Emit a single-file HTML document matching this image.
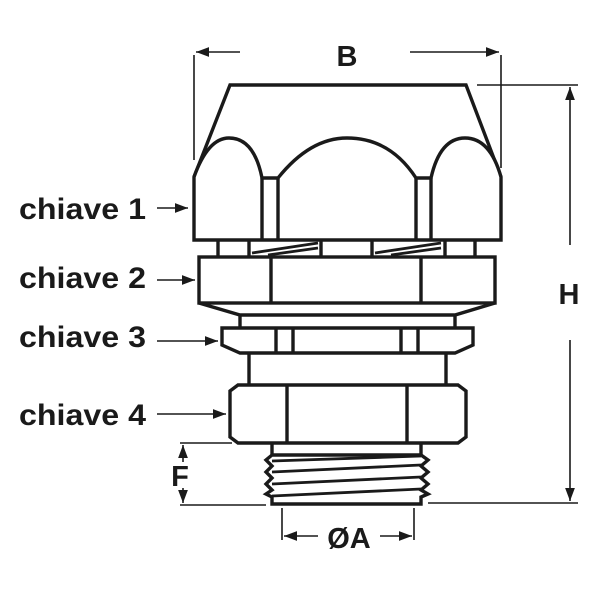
<!DOCTYPE html>
<html><head><meta charset="utf-8"><style>
html,body{margin:0;padding:0;background:#fff;width:600px;height:600px;overflow:hidden}
svg{display:block}
text{font-family:"Liberation Sans",Arial,sans-serif;font-weight:bold;fill:#1a1a1a}
</style></head><body>
<svg width="600" height="600" viewBox="0 0 600 600" xmlns="http://www.w3.org/2000/svg">
<defs>
<marker id="ar" viewBox="0 0 12 10" refX="12" refY="5" markerWidth="13" markerHeight="11" markerUnits="userSpaceOnUse" orient="auto"><path d="M0,0.5 L12,5 L0,9.5z" fill="#1a1a1a"/></marker>
</defs>
<g fill="none" stroke="#1a1a1a" stroke-width="3.4" stroke-linejoin="miter">
<path d="M194,177 L230,85 L466,85 L501,177" />
<path d="M194,240 L194,177 Q208,138 229,138 Q254,138 262,178 L278,178 Q310,138 347,138 Q390,138 416,178 L431,178 Q440,138 465,138 Q490,138 501,177 L501,240 Z" fill="#fff"/>
<path d="M262,178 L262,240 M278,178 L278,240 M416,178 L416,240 M431,178 L431,240"/>
<path d="M218,240 L218,257 M475,240 L475,257 M249,240 L249,257 M321,240 L321,257 M372,240 L372,257 M445,240 L445,257"/>
<path d="M252,253 L318,243 M268,255 L318,248 M375,253 L441,243 M391,255 L441,248" stroke-width="2.8"/>
<rect x="199" y="257" width="296" height="46" fill="#fff"/>
<path d="M271,257 L271,303 M421,257 L421,303"/>
<path d="M199,303 L240,315 L455,315 L495,303"/>
<path d="M240,315 L240,328 M455,315 L455,328"/>
<path d="M222,328 L473,328 L473,345 L455,353 L240,353 L222,345 Z" fill="#fff"/>
<path d="M276,328 L276,353 M293,328 L293,353 M401,328 L401,353 M418,328 L418,353"/>
<path d="M249,353 L249,385 M446,353 L446,385"/>
<path d="M238,385 L458,385 L466,391 L466,437 L458,443 L238,443 L230,437 L230,391 Z" fill="#fff"/>
<path d="M287,385 L287,443 M407,385 L407,443"/>
<path d="M272,443 L272,455 M421,443 L421,455"/>
<path d="M272,455 L266,460 L272,466 L266,472 L272,478 L266,484 L272,490 L266,494 L272,497 L272,504 L421,504 L421,497 L428,494 L421,490 L428,484 L421,478 L428,472 L421,466 L428,460 L421,455 L272,455"/>
<path d="M272,461 L421,456 M272,472 L421,465 M272,484 L421,477 M272,496 L421,489" stroke-width="2.8"/>
</g>
<g stroke="#1a1a1a" stroke-width="1.6" fill="none">
<path d="M194,55 L194,160 M501,55 L501,168"/>
<path d="M240,52 L196,52" marker-end="url(#ar)"/>
<path d="M410,52 L499,52" marker-end="url(#ar)"/>
<path d="M477,85 L578,85 M428,503 L578,503"/>
<path d="M570,245 L570,87" marker-end="url(#ar)"/>
<path d="M570,340 L570,501" marker-end="url(#ar)"/>
<path d="M180,443 L232,443 M180,505 L266,505"/>
<path d="M183,462 L183,445" marker-end="url(#ar)"/>
<path d="M183,488 L183,503" marker-end="url(#ar)"/>
<path d="M282,508 L282,540 M414,508 L414,540"/>
<path d="M318,536 L284,536" marker-end="url(#ar)"/>
<path d="M380,536 L412,536" marker-end="url(#ar)"/>
<path d="M157,208 L188,208" marker-end="url(#ar)"/>
<path d="M157,280 L195,280" marker-end="url(#ar)"/>
<path d="M157,341 L218,341" marker-end="url(#ar)"/>
<path d="M157,414 L226,414" marker-end="url(#ar)"/>
</g>
<text x="347" y="66" font-size="29" text-anchor="middle">B</text>
<text x="569" y="304" font-size="29" text-anchor="middle">H</text>
<text x="180" y="486" font-size="29" text-anchor="middle">F</text>
<text x="349" y="548" font-size="29" text-anchor="middle">ØA</text>
<text x="19" y="219" font-size="30" textLength="127" lengthAdjust="spacingAndGlyphs">chiave 1</text>
<text x="19" y="288" font-size="30" textLength="127" lengthAdjust="spacingAndGlyphs">chiave 2</text>
<text x="19" y="347" font-size="30" textLength="127" lengthAdjust="spacingAndGlyphs">chiave 3</text>
<text x="19" y="425" font-size="30" textLength="127" lengthAdjust="spacingAndGlyphs">chiave 4</text>
</svg>
</body></html>
